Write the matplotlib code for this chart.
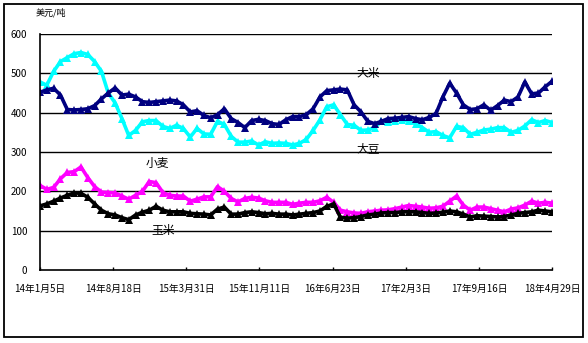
import matplotlib
matplotlib.use("Agg")
import matplotlib.pyplot as plt
from matplotlib.patches import Rectangle
import pandas as pd

plt.rcParams["font.family"] = ["Noto Sans CJK SC", "DejaVu Sans"]

# 每三周一个点，2014-01-05 至 2018-04-29
DATES = pd.date_range("2014-01-05", periods=76, freq="21D")

RICE = [452, 458, 462, 445, 408, 407, 408, 410, 418, 435,
        450, 463, 445, 447, 440, 428, 426, 428, 430, 432,
        430, 420, 402, 405, 393, 387, 395, 410, 385, 375,
        362, 380, 383, 380, 372, 370, 382, 390, 390, 395,
        410, 440, 456, 458, 460, 458, 420, 402, 378, 372,
        378, 385, 386, 388, 390, 385, 382, 388, 398, 440,
        475, 450, 420, 408, 410, 420, 406, 418, 432, 428,
        440, 478, 448, 450, 466, 480]
SOY = [478, 470, 505, 530, 540, 550, 553, 548, 530, 505,
       450, 425, 385, 342, 355, 377, 380, 380, 365, 360,
       368, 360, 338, 360, 346, 345, 378, 370, 340, 325,
       325, 328, 318, 326, 322, 323, 322, 318, 322, 332,
       355, 382, 415, 420, 395, 370, 368, 355, 356, 362,
       378, 376, 380, 382, 378, 372, 362, 350, 352, 342,
       336, 365, 362, 345, 350, 356, 358, 362, 362, 350,
       355, 366, 382, 375, 380, 375]
WHEAT = [215, 205, 210, 232, 248, 250, 262, 235, 212, 198,
         197, 196, 188, 180, 190, 200, 225, 222, 197, 190,
         188, 188, 175, 180, 186, 186, 212, 200, 182, 173,
         182, 185, 183, 176, 172, 172, 172, 167, 170, 172,
         172, 176, 185, 172, 152, 148, 145, 144, 148, 150,
         152, 153, 156, 160, 164, 162, 160, 157, 158, 162,
         175, 188, 165, 152, 160, 160, 156, 152, 148, 155,
         158, 165, 175, 170, 172, 170]
CORN = [163, 168, 175, 183, 190, 196, 195, 185, 168, 152,
        143, 140, 133, 128, 140, 147, 152, 162, 152, 148,
        148, 148, 144, 143, 142, 140, 155, 160, 142, 142,
        146, 148, 146, 143, 144, 142, 142, 140, 142, 144,
        146, 150, 162, 168, 134, 132, 133, 136, 140, 142,
        145, 146, 146, 148, 148, 148, 146, 144, 145, 147,
        150, 148, 142, 135, 138, 137, 136, 135, 136, 140,
        144, 146, 148, 152, 150, 148]

TICK_DATES = pd.date_range("2014-01-05", periods=8, freq="225D")
TICK_LABELS = ["14年1月5日", "14年8月18日", "15年3月31日", "15年11月11日",
               "16年6月23日", "17年2月3日", "17年9月16日", "18年4月29日"]
Y_TICKS = [0, 100, 200, 300, 400, 500, 600]

fig = plt.figure(figsize=(5.88, 3.43), dpi=100)
fig.patches.append(Rectangle((0.007, 0.017), 0.985, 0.97, transform=fig.transFigure,
                             fill=False, ec="black", lw=1.3))
ax = fig.add_axes([0.068, 0.2128, 0.871, 0.688])

series = [(SOY, "#00FFFF"), (RICE, "#000080"), (WHEAT, "#FF00FF"), (CORN, "black")]
for vals, c in series:
    ax.plot(DATES, vals, "^-", c=c, ms=6, lw=2.6, mew=0)

for y in Y_TICKS[1:]:
    ax.axhline(y, c="black", lw=1, zorder=0.5)

ax.set_ylim(0, 600)
ax.set_xlim(DATES[0], DATES[-1])
ax.set_yticks(Y_TICKS)
ax.set_xticks(TICK_DATES)
ax.set_xticklabels(TICK_LABELS)
ax.tick_params(axis="y", length=0, pad=9, labelsize=7)
ax.tick_params(axis="x", direction="in", length=2.5, width=1, pad=10, labelsize=7)
for s in ("top", "right"):
    ax.spines[s].set_visible(False)
for s in ("left", "bottom"):
    ax.spines[s].set_linewidth(1.2)

fig.text(0.06, 0.962, "美元/吨", fontsize=6.5, va="center")
ax.text(0.641, 0.831, "大米", transform=ax.transAxes, fontsize=8.5, ha="center", va="center")
ax.text(0.641, 0.513, "大豆", transform=ax.transAxes, fontsize=8.5, ha="center", va="center")
ax.text(0.230, 0.453, "小麦", transform=ax.transAxes, fontsize=8.5, ha="center", va="center")
ax.text(0.240, 0.169, "玉米", transform=ax.transAxes, fontsize=8.5, ha="center", va="center")

fig.savefig("out.png", dpi=100)
